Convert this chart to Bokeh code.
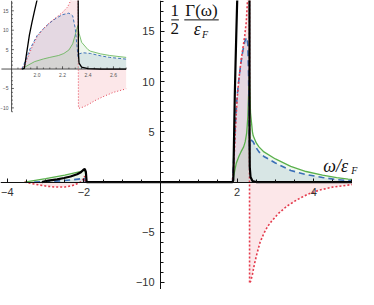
import numpy as np
from bokeh.plotting import figure
from bokeh.models import Range1d, FixedTicker
from bokeh.embed import file_html
from bokeh.resources import INLINE
from bokeh.core.properties import value

# ---------------- data ----------------
w_black = [-3.1, -2.93, -2.7, -2.52, -2.35, -2.18, -2.08, -2.02, -1.98, -1.95, -1.93,
           1.88, 1.9, 1.92, 1.94, 1.96, 1.98, 2.0, 2.05, 2.1, 2.2, 2.3, 2.318,
           2.325, 2.33, 2.35, 2.4, 2.5, 2.7, 5.0]
g_black = [0, 0.15, 0.27, 0.4, 0.55, 0.77, 0.98, 1.2, 1.3, 1.0, 0,
           0, 0.2, 4.5, 8.8, 12.0, 15.0, 17.8, 23.0, 29.0, 40.0, 52.0, 55.0,
           4.0, 1.5, 0.5, 0.1, 0.0, 0.0, 0.0]

w_red = [-3.55, -3.3, -3.0, -2.75, -2.5, -2.3, -2.15, -2.05, -2.0, -1.985, -1.96,
         1.87, 1.9, 1.93, 1.96, 2.0, 2.05, 2.1, 2.15, 2.2, 2.24, 2.27, 2.3, 2.32,
         2.325, 2.33, 2.36, 2.4, 2.45, 2.52, 2.6, 2.7, 2.8, 2.9, 3.07, 3.3, 3.57,
         3.85, 4.15, 4.5, 5.0]
g_red = [0, -0.2, -0.4, -0.5, -0.5, -0.35, -0.12, 0.1, 0.4, 0.6, 0,
         0, 0.8, 3.2, 5.6, 8.3, 10.4, 12.0, 13.3, 14.6, 16.0, 18.0, 23.0, 40.0,
         -10.0, -10.1, -9.8, -9.2, -8.2, -7.1, -6.0, -5.1, -4.4, -3.9, -3.16, -2.4, -1.75,
         -1.2, -0.8, -0.5, -0.25]

w_blue = [-3.3, -3.0, -2.6, -2.3, -2.1, -2.0, -1.96,
          1.88, 1.91, 1.945, 2.0, 2.05, 2.1, 2.15, 2.2, 2.25, 2.28, 2.3, 2.315,
          2.322, 2.33, 2.36, 2.42, 2.5, 2.57, 2.7, 3.0, 3.4, 3.8, 4.23, 4.6, 4.9, 5.0]
g_blue = [0, 0.05, 0.12, 0.22, 0.32, 0.4, 0,
          0, 2.2, 5.2, 8.6, 10.4, 11.9, 13.1, 14.0, 14.4, 13.7, 10.5, 5.5,
          3.2, 3.9, 4.2, 4.0, 3.4, 3.0, 2.55, 1.9, 1.15, 0.75, 0.45, 0.25, 0.14, 0.1]

w_green = [-3.55, -3.0, -2.5, -2.1, -1.97, -1.95, -1.93,
           1.88, 1.93, 1.98, 2.05, 2.1, 2.17, 2.21, 2.25, 2.28, 2.3, 2.32, 2.33,
           2.35, 2.4, 2.42, 2.5, 2.57, 2.7, 3.0, 3.4, 3.8, 4.23, 4.6, 4.9, 5.0]
g_green = [0, 0.35, 0.7, 1.05, 1.2, 0.5, 0,
           0, 1.0, 1.9, 2.6, 3.0, 3.5, 4.0, 4.9, 6.5, 8.8, 11.2, 9.2,
           6.9, 5.0, 4.6, 3.9, 3.5, 3.0, 2.3, 1.56, 1.05, 0.7, 0.45, 0.3, 0.27]

x_major = [-4, -2, 2, 4]
x_labels = {-4: "\u22124", -2: "\u22122", 2: "2", 4: "4"}
x_minor = [-4.0, -3.5, -3.0, -2.5, -2.0, -1.5, -1.0, -0.5, 0.5, 1.0, 1.5, 2.0,
           2.5, 3.0, 3.5, 4.0, 4.5, 5.0]
y_major = [-10, -5, 5, 10, 15]
y_labels = {-10: "\u221210", -5: "\u22125", 5: "5", 10: "10", 15: "15"}
y_minor = list(range(-10, 19))

inset_x_major = [2.0, 2.2, 2.4, 2.6]
inset_x_labels = ["2.0", "2.2", "2.4", "2.6"]
inset_x_minor = [1.85, 1.9, 1.95, 2.05, 2.1, 2.15, 2.25, 2.3, 2.35, 2.45, 2.5, 2.55, 2.65, 2.7]
inset_y_major = [-10, -5, 5, 10, 15]
inset_y_labels = ["\u221210", "\u22125", "5", "10", "15"]
inset_y_minor = [v for v in range(-11, 18) if v % 5 != 0]

RED, BLUE, GREEN, BLACK = "#e43a4c", "#3a6fb7", "#5ab04c", "#000000"

# ---------------- main figure ----------------
p = figure(width=358, height=289, x_range=Range1d(-4.18, 5.17), y_range=Range1d(-10.7, 18.08),
           output_backend="svg", toolbar_location=None, min_border=0)
p.outline_line_color = None
p.xgrid.visible = False
p.ygrid.visible = False

for ax in (p.xaxis[0], p.yaxis[0]):
    ax.fixed_location = 0
    ax.axis_line_color = "#111111"
    ax.major_tick_line_color = "#111111"
    ax.minor_tick_line_color = "#111111"
    ax.major_tick_in = 4
    ax.major_tick_out = 0
    ax.minor_tick_in = 3
    ax.minor_tick_out = 0
    ax.major_label_text_font = "Liberation Sans"
    ax.major_label_text_font_size = "11px"
    ax.major_label_text_color = "#333333"
    ax.major_label_standoff = 6

p.xaxis[0].ticker = FixedTicker(ticks=x_major, minor_ticks=x_minor)
p.xaxis[0].major_label_overrides = x_labels
p.xaxis[0].bounds = (-4.18, 5.0)
p.yaxis[0].ticker = FixedTicker(ticks=y_major, minor_ticks=y_minor)
p.yaxis[0].major_label_overrides = y_labels


def series_lines(api, scale, wb, gb, wr, gr, wbl, gbl, wg, gg):
    api.line(wg, gg, line_color=GREEN, line_width=1.3 * scale)
    api.line(wbl, gbl, line_color=BLUE, line_width=1.6 * scale,
             line_dash="6 4" if scale > 0.8 else "3 2")
    api.line(wr, gr, line_color=RED, line_width=1.6 * scale,
             line_dash="2 2" if scale > 0.8 else "1 2")
    api.line(wb, gb, line_color=BLACK, line_width=2.2 * scale)


# main curves
p.varea(x=w_red, y1=0, y2=g_red, fill_color=RED, fill_alpha=0.12)
p.varea(x=w_blue, y1=0, y2=g_blue, fill_color=BLUE, fill_alpha=0.12)
p.varea(x=w_green, y1=0, y2=g_green, fill_color=GREEN, fill_alpha=0.10)
series_lines(p, 1.0, w_black, g_black, w_red, g_red, w_blue, g_blue, w_green, g_green)

# axis titles
serif = value("Liberation Serif")
p.text(x=[0.37], y=[17.1], text=["1"], text_font=serif, text_font_size="17px",
       text_align="center", text_baseline="middle", text_color="#111111")
p.text(x=[0.37], y=[15.3], text=["2"], text_font=serif, text_font_size="17px",
       text_align="center", text_baseline="middle", text_color="#111111")
p.text(x=[1.07], y=[17.1], text=["\u0393(\u03c9)"], text_font=serif, text_font_size="17px",
       text_align="center", text_baseline="middle", text_color="#111111")
p.text(x=[0.96], y=[15.2], text=["\u03b5"], text_font=serif, text_font_style="italic",
       text_font_size="18px", text_align="center", text_baseline="middle", text_color="#111111")
p.text(x=[1.16], y=[14.7], text=["F"], text_font=serif, text_font_style="italic",
       text_font_size="10px", text_align="center", text_baseline="middle", text_color="#111111")
p.segment(x0=[0.28, 0.62], y0=[16.15, 16.15], x1=[0.48, 1.52], y1=[16.15, 16.15],
          line_color="#111111", line_width=1)

p.text(x=[4.25], y=[1.55], text=["\u03c9/\u03b5"], text_font=serif, text_font_style="italic",
       text_font_size="18px", text_align="left", text_baseline="alphabetic", text_color="#111111")
p.text(x=[4.98], y=[1.2], text=["F"], text_font=serif, text_font_style="italic",
       text_font_size="10px", text_align="left", text_baseline="alphabetic", text_color="#111111")

# ---------------- inset ----------------
ins = p.subplot(x_source=Range1d(1.8, 2.7), y_source=Range1d(-11, 17.6),
                x_target=Range1d(-3.89, -0.898), y_target=Range1d(7.0, 18.06))


def clip(w, g):
    w = np.asarray(w, float)
    g = np.asarray(g, float)
    m = (w >= 1.8) & (w <= 2.7)
    return w[m], g[m]


ib_w, ib_g = clip(w_black, g_black)
ir_w, ir_g = clip(w_red, g_red)
ibl_w, ibl_g = clip(w_blue, g_blue)
ig_w, ig_g = clip(w_green, g_green)
ins.varea(x=ir_w, y1=0, y2=ir_g, fill_color=RED, fill_alpha=0.12)
ins.varea(x=ibl_w, y1=0, y2=ibl_g, fill_color=BLUE, fill_alpha=0.12)
ins.varea(x=ig_w, y1=0, y2=ig_g, fill_color=GREEN, fill_alpha=0.10)

# inset axes
ins.segment(x0=[1.72, 1.8], y0=[0, -11], x1=[2.7, 1.8], y1=[0, 17.6],
            line_color="#222222", line_width=0.8)
ins.segment(x0=inset_x_major, y0=[0] * 4, x1=inset_x_major, y1=[0.7] * 4,
            line_color="#222222", line_width=0.7)
ins.segment(x0=inset_x_minor, y0=[0] * len(inset_x_minor), x1=inset_x_minor,
            y1=[0.4] * len(inset_x_minor), line_color="#222222", line_width=0.6)
ins.segment(x0=[1.8] * 5, y0=inset_y_major, x1=[1.818] * 5, y1=inset_y_major,
            line_color="#222222", line_width=0.7)
ins.segment(x0=[1.8] * len(inset_y_minor), y0=inset_y_minor, x1=[1.811] * len(inset_y_minor),
            y1=inset_y_minor, line_color="#222222", line_width=0.6)
ins.text(x=inset_x_major, y=[-1.5] * 4, text=inset_x_labels, text_font=value("Liberation Sans"),
         text_font_size="5px", text_align="center", text_baseline="middle", text_color="#555555")
ins.text(x=[1.776] * 5, y=inset_y_major, text=inset_y_labels, text_font=value("Liberation Sans"),
         text_font_size="5px", text_align="right", text_baseline="middle", text_color="#555555")

series_lines(ins, 0.6, ib_w, ib_g, ir_w, ir_g, ibl_w, ibl_g, ig_w, ig_g)

open("out.html", "w").write(file_html(p, INLINE))
